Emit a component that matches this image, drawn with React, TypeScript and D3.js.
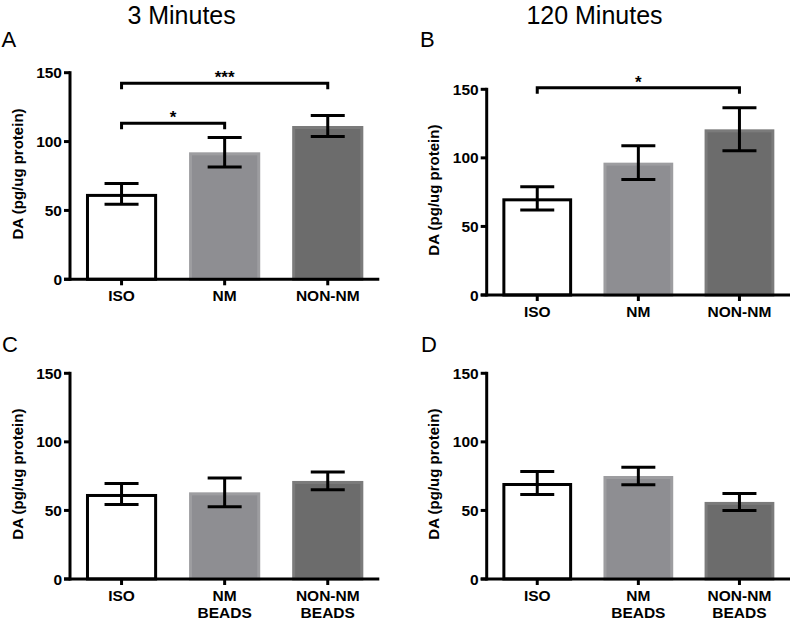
import React from "react";
import * as d3 from "d3";

const categoriesTop = ["ISO", "NM", "NON-NM"];
const categoriesBottom = ["ISO", "NM\nBEADS", "NON-NM\nBEADS"];
const yTicks = [0, 50, 100, 150];

const meansA = [62, 92.2, 111.3];
const errA = [7.6, 10.7, 7.6];
const meansB = [70.5, 96.5, 120.8];
const errB = [8.5, 12.3, 15.7];
const meansC = [62, 63.2, 71.5];
const errC = [7.6, 10.5, 6.5];
const meansD = [70, 75.1, 56.2];
const errD = [8.4, 6.3, 6.2];

const bracketsA = [
  { from: 0, to: 2, level: 142.3, label: "***" },
  { from: 0, to: 1, level: 113.3, label: "*" },
];
const bracketsB = [{ from: 0, to: 2, level: 151.2, label: "*" }];

const fills = ["#ffffff", "#8e8e92", "#6c6c6c"];
const strokes = ["#000000", "#9d9da0", "#7b7b7b"];

const FONT = "'Liberation Sans', Arial, Helvetica, sans-serif";

type PanelProps = {
  letter: string;
  letterX: number;
  letterY: number;
  x0: number;
  x1: number;
  yTop: number;
  yBot: number;
  cats: string[];
  means: number[];
  errs: number[];
  brackets: { from: number; to: number; level: number; label: string }[];
  labelX: number;
};

function Panel(p: PanelProps) {
  const x = d3
    .scaleBand<string>()
    .domain(p.cats)
    .range([p.x0, p.x1])
    .paddingInner(0.31)
    .paddingOuter(0.155);
  const y = d3.scaleLinear().domain([0, 150]).range([p.yBot, p.yTop]);
  const bw = x.bandwidth();
  const cap = 17;
  const sw = 3;
  return (
    <g>
      <text x={p.letterX} y={p.letterY} fontSize={22} fontFamily={FONT}>
        {p.letter}
      </text>
      {p.cats.map((c, i) => {
        const bx = x(c)!;
        const top = y(p.means[i]);
        return (
          <rect
            key={"b" + i}
            x={bx + 1.5}
            y={top + 1.5}
            width={bw - 3}
            height={p.yBot - top - 1.5}
            fill={fills[i]}
            stroke={strokes[i]}
            strokeWidth={3}
          />
        );
      })}
      {p.cats.map((c, i) => {
        const cx = x(c)! + bw / 2;
        const hi = y(p.means[i] + p.errs[i]);
        const lo = y(p.means[i] - p.errs[i]);
        return (
          <g key={"e" + i} stroke="#000" strokeWidth={sw}>
            <line x1={cx} x2={cx} y1={hi} y2={lo} />
            <line x1={cx - cap} x2={cx + cap} y1={hi} y2={hi} />
            <line x1={cx - cap} x2={cx + cap} y1={lo} y2={lo} />
          </g>
        );
      })}
      {p.brackets.map((b, i) => {
        const xa = x(p.cats[b.from])! + bw / 2;
        const xb = x(p.cats[b.to])! + bw / 2;
        const yy = y(b.level);
        return (
          <g key={"br" + i}>
            <path
              d={`M${xa},${yy + 6}V${yy}H${xb}V${yy + 6}`}
              fill="none"
              stroke="#000"
              strokeWidth={3}
            />
            <text
              x={(xa + xb) / 2}
              y={yy}
              textAnchor="middle"
              fontSize={17}
              fontWeight="bold"
              fontFamily={FONT}
            >
              {b.label}
            </text>
          </g>
        );
      })}
      <line x1={p.x0} x2={p.x0} y1={p.yTop - 1.5} y2={p.yBot + 1.5} stroke="#000" strokeWidth={3} />
      {yTicks.map((t) => (
        <g key={"yt" + t}>
          <line x1={p.x0 - 6} x2={p.x0} y1={y(t)} y2={y(t)} stroke="#000" strokeWidth={3} />
          <text
            x={p.x0 - 8}
            y={y(t) + 5.5}
            textAnchor="end"
            fontSize={15.5}
            fontWeight="bold"
            fontFamily={FONT}
          >
            {t}
          </text>
        </g>
      ))}
      <line x1={p.x0 - 6} x2={p.x1} y1={p.yBot} y2={p.yBot} stroke="#000" strokeWidth={3} />
      {p.cats.map((c, i) => {
        const cx = x(c)! + bw / 2;
        const lines = c.split("\n");
        return (
          <g key={"xt" + i}>
            <line x1={cx} x2={cx} y1={p.yBot} y2={p.yBot + 6} stroke="#000" strokeWidth={3} />
            {lines.map((ln, j) => (
              <text
                key={j}
                x={cx}
                y={p.yBot + 22 + j * 16.6}
                textAnchor="middle"
                fontSize={15.5}
                fontWeight="bold"
                fontFamily={FONT}
              >
                {ln}
              </text>
            ))}
          </g>
        );
      })}
      <text
        transform={`translate(${p.labelX},${(p.yTop + p.yBot) / 2 - 2}) rotate(-90)`}
        textAnchor="middle"
        fontSize={15}
        fontWeight="bold"
        fontFamily={FONT}
      >
        DA (pg/ug protein)
      </text>
    </g>
  );
}

export default function App() {
  return (
    <svg
      width={797}
      height={622}
      style={{ position: "absolute", left: 0, top: 0, background: "#fff" }}
    >
      <rect width={797} height={622} fill="#fff" />
      <text x={181.6} y={24} textAnchor="middle" fontSize={25} fontFamily={FONT}>
        3 Minutes
      </text>
      <text x={594.5} y={24} textAnchor="middle" fontSize={25} fontFamily={FONT}>
        120 Minutes
      </text>
      <Panel
        letter="A"
        letterX={1.5}
        letterY={46.5}
        x0={70}
        x1={379.3}
        yTop={72.7}
        yBot={279.3}
        cats={categoriesTop}
        means={meansA}
        errs={errA}
        brackets={bracketsA}
        labelX={23}
      />
      <Panel
        letter="B"
        letterX={420}
        letterY={46.5}
        x0={486.7}
        x1={790}
        yTop={89.3}
        yBot={295}
        cats={categoriesTop}
        means={meansB}
        errs={errB}
        brackets={bracketsB}
        labelX={439}
      />
      <Panel
        letter="C"
        letterX={2}
        letterY={352.3}
        x0={70}
        x1={379.3}
        yTop={373.3}
        yBot={579}
        cats={categoriesBottom}
        means={meansC}
        errs={errC}
        brackets={[]}
        labelX={23}
      />
      <Panel
        letter="D"
        letterX={421}
        letterY={352.3}
        x0={486.7}
        x1={790}
        yTop={373.3}
        yBot={579}
        cats={categoriesBottom}
        means={meansD}
        errs={errD}
        brackets={[]}
        labelX={439}
      />
    </svg>
  );
}
